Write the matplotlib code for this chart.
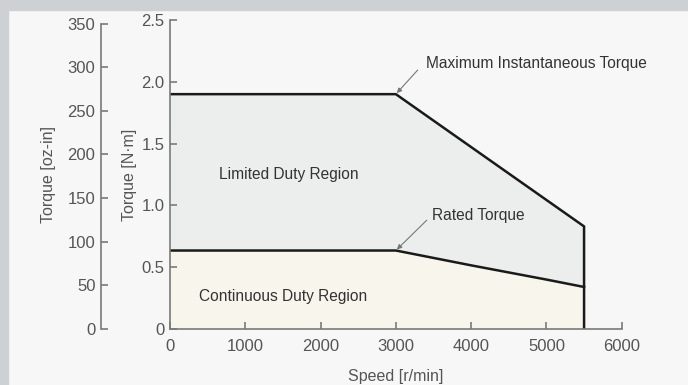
import matplotlib
matplotlib.use("Agg")
from matplotlib import pyplot as plt
import matplotlib.patches as mpatches

plt.rcParams['font.family'] = ['Liberation Sans Narrow', 'Liberation Sans', 'DejaVu Sans']

# speed [r/min] and torque [N·m]
max_speed = [0, 3000, 5500]
max_torque = [1.9, 1.9, 0.83]
rated_speed = [0, 3000, 4000, 5000, 5500]
rated_torque = [0.635, 0.635, 0.515, 0.40, 0.34]
nm_ticks = [0, 0.5, 1.0, 1.5, 2.0, 2.5]
nm_labels = ["0", "0.5", "1.0", "1.5", "2.0", "2.5"]
oz_ticks = [0, 50, 100, 150, 200, 250, 300, 350]
speed_ticks = [0, 1000, 2000, 3000, 4000, 5000, 6000]
OZ_PER_NM = 141.61

ink = "#555555"
spine_c = "#7a7a7a"

fig = plt.figure(figsize=(6.88, 3.85), dpi=100)
fig.patch.set_facecolor("#f7f7f7")
# grey frame on top and left
fig.patches.append(mpatches.Rectangle((0, 1 - 10 / 385), 1, 10 / 385, transform=fig.transFigure,
                                      color="#cdd1d4", zorder=0))
fig.patches.append(mpatches.Rectangle((0, 0), 8 / 688, 1, transform=fig.transFigure,
                                      color="#cdd1d4", zorder=0))

bottom = 1 - 329 / 385
height = 309 / 385
ax = fig.add_axes([170 / 688, bottom, (621.7 - 170) / 688, height])
ax.set_facecolor("none")

# regions
ax.fill_between(max_speed, max_torque, 0, color="#eceeee", lw=0)
ax.fill_between(rated_speed, rated_torque, 0, color="#f8f5ec", lw=0)
ax.plot(max_speed + [5500], max_torque + [0], color="#1a1a1a", lw=1.8, solid_joinstyle="miter")
ax.plot(rated_speed, rated_torque, color="#1a1a1a", lw=1.8)

ax.set_xlim(0, 6000)
ax.set_ylim(0, 2.5)
ax.set_xticks(speed_ticks)
ax.set_yticks(nm_ticks)
ax.set_yticklabels(nm_labels)
for s in ["top", "right"]:
    ax.spines[s].set_visible(False)
for s in ["left", "bottom"]:
    ax.spines[s].set_color(spine_c)
    ax.spines[s].set_linewidth(1.2)
ax.tick_params(direction="in", length=5, width=1.2, color=spine_c, labelcolor=ink, labelsize=12)
ax.tick_params(axis="y", pad=4)
ax.tick_params(axis="x", pad=7)
ax.set_xlabel("Speed [r/min]", color=ink, fontsize=11.5)
ax.xaxis.set_label_coords(0.5, -0.13)
ax.set_ylabel("Torque [N·m]", color=ink, fontsize=11.5)
ax.yaxis.set_label_coords(-33 / 451.7, 0.5)

ax.text(650, 1.25, "Limited Duty Region", color="#333333", fontsize=11.2, va="center")
ax.text(380, 0.26, "Continuous Duty Region", color="#333333", fontsize=11.2, va="center")

# callouts: text and short arrows pointing at the corner points
arrow = dict(arrowstyle="-|>", color="#777777", lw=0.8, mutation_scale=7, shrinkA=0, shrinkB=1)
ax.text(3400, 2.15, "Maximum Instantaneous Torque", color="#333333", fontsize=11.2, va="center")
ax.annotate("", xy=(3000, 1.9), xytext=(3290, 2.095), arrowprops=arrow)
ax.text(3480, 0.92, "Rated Torque", color="#333333", fontsize=11.2, va="center")
ax.annotate("", xy=(3000, 0.635), xytext=(3410, 0.88), arrowprops=arrow)

# secondary oz-in axis on the far left
ax2 = fig.add_axes([101 / 688, bottom, 0.01, height])
ax2.set_facecolor("none")
ax2.set_ylim(0, 2.5 * OZ_PER_NM)
ax2.set_yticks(oz_ticks)
ax2.set_xticks([])
for s in ["top", "right", "bottom"]:
    ax2.spines[s].set_visible(False)
ax2.spines["left"].set_color(spine_c)
ax2.spines["left"].set_linewidth(1.2)
ax2.spines["left"].set_bounds(0, 350)
ax2.tick_params(axis="y", direction="in", length=5, width=1.2, color=spine_c, labelcolor=ink,
                labelsize=12, pad=4)
ax2.set_ylabel("Torque [oz-in]", color=ink, fontsize=11.5)
ax2.yaxis.set_label_coords(-45 / 6.88, 0.5)

fig.savefig("out.png", dpi=100, facecolor=fig.get_facecolor())
